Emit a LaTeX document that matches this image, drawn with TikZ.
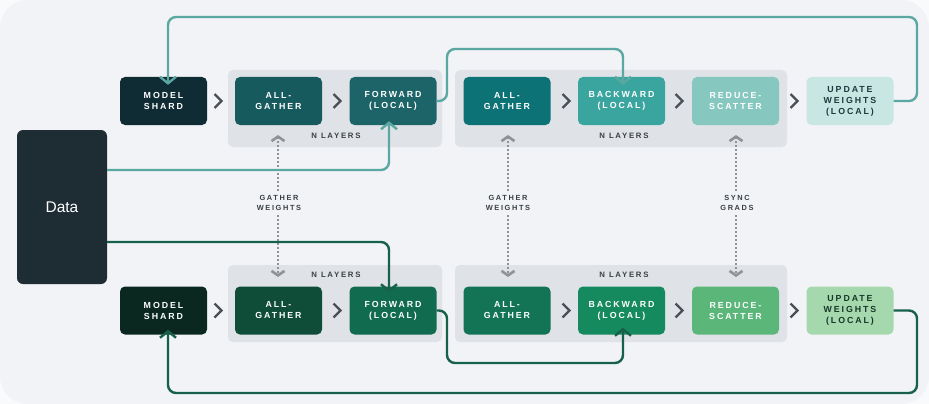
\documentclass[tikz,border=0pt]{standalone}
\usepackage{fontspec}
\setmainfont{Liberation Sans}
\newfontfamily\labfont[LetterSpace=22]{Liberation Sans}
\newfontfamily\datafont{Liberation Sans}
\usetikzlibrary{arrows.meta}
\definecolor{pagebg}{HTML}{F9FAFB}
\definecolor{bg}{HTML}{F1F3F6}
\definecolor{panelc}{HTML}{DFE2E6}
\definecolor{tline}{HTML}{5BA8A3}
\definecolor{bline}{HTML}{17604A}
\definecolor{chev}{HTML}{4A4F55}
\definecolor{dotc}{HTML}{8F9398}
\definecolor{labc}{HTML}{3A4045}
\definecolor{datac}{HTML}{1E2C34}
\definecolor{msA}{HTML}{0F2B33}
\definecolor{agA}{HTML}{175A5E}
\definecolor{fwA}{HTML}{1D6469}
\definecolor{agB}{HTML}{0C7275}
\definecolor{bwA}{HTML}{3AA59F}
\definecolor{rsA}{HTML}{86C8C0}
\definecolor{uwA}{HTML}{C9E7E2}
\definecolor{uwAt}{HTML}{1D3B3E}
\definecolor{msC}{HTML}{0B2820}
\definecolor{agC}{HTML}{0F4D38}
\definecolor{fwC}{HTML}{116B4E}
\definecolor{agD}{HTML}{127455}
\definecolor{bwC}{HTML}{168A5F}
\definecolor{rsC}{HTML}{5BB67A}
\definecolor{uwC}{HTML}{A6D8AE}
\definecolor{uwCt}{HTML}{173828}
\tikzset{
  stepbox/.style={rectangle, rounded corners=5pt, minimum width=87pt, minimum height=48pt,
    align=center, inner sep=0pt, text=white,
    font=\labfont\bfseries\fontsize{8.8}{11}\selectfont},
  panelbox/.style={fill=panelc, rounded corners=5pt},
  nlab/.style={font=\labfont\bfseries\fontsize{7.8}{9}\selectfont, text=labc, inner sep=0pt},
  glab/.style={font=\labfont\bfseries\fontsize{7.4}{10.5}\selectfont, text=labc, align=center, inner sep=0pt},
  tflow/.style={draw=tline, line width=2.4pt, rounded corners=8pt, -{Straight Barb[length=6.5pt,width=16pt]}},
  bflow/.style={draw=bline, line width=2.4pt, rounded corners=8pt, -{Straight Barb[length=6.5pt,width=16pt]}},
  dotflow/.style={draw=dotc, line width=2.6pt, dash pattern=on 2pt off 2pt, -{Straight Barb[length=4.5pt,width=13pt]}},
  chevline/.style={draw=chev, line width=2.2pt},
}
\newcommand{\chevat}[2]{\draw[chevline] (#1-3.5,#2-7) -- (#1+3.5,#2) -- (#1-3.5,#2+7);}
\begin{document}
\begin{tikzpicture}[x=1pt,y=-1pt]
\useasboundingbox (0,0) rectangle (929,404);
\fill[pagebg] (0,0) rectangle (929,404);
\fill[bg, rounded corners=28pt] (0,0) rectangle (929,404);
% panels
\fill[panelbox] (228,70) rectangle (442,147);
\fill[panelbox] (455,70) rectangle (787,147);
\fill[panelbox] (228,265) rectangle (442,342);
\fill[panelbox] (455,265) rectangle (787,342);
% data
\node[rectangle, rounded corners=6pt, fill=datac, minimum width=90pt, minimum height=154pt,
  inner sep=0pt, text=white, font=\datafont\fontsize{15.5}{18}\selectfont] (data) at (62,207) {Data};
% top row
\node[stepbox, fill=msA] (ms1) at (163.5,101) {MODEL\\SHARD};
\node[stepbox, fill=agA] (ag1) at (278.5,101) {ALL-\\GATHER};
\node[stepbox, fill=fwA] (fw1) at (393,101) {FORWARD\\(LOCAL)};
\node[stepbox, fill=agB] (ag2) at (507,101) {ALL-\\GATHER};
\node[stepbox, fill=bwA] (bw1) at (621.5,101) {BACKWARD\\(LOCAL)};
\node[stepbox, fill=rsA] (rs1) at (735.5,101) {REDUCE-\\SCATTER};
\node[stepbox, fill=uwA, text=uwAt] (uw1) at (850,101) {UPDATE\\WEIGHTS\\(LOCAL)};
% bottom row
\node[stepbox, fill=msC] (ms2) at (163.5,310.5) {MODEL\\SHARD};
\node[stepbox, fill=agC] (ag3) at (278.5,310.5) {ALL-\\GATHER};
\node[stepbox, fill=fwC] (fw2) at (393,310.5) {FORWARD\\(LOCAL)};
\node[stepbox, fill=agD] (ag4) at (507,310.5) {ALL-\\GATHER};
\node[stepbox, fill=bwC] (bw2) at (621.5,310.5) {BACKWARD\\(LOCAL)};
\node[stepbox, fill=rsC] (rs2) at (735.5,310.5) {REDUCE-\\SCATTER};
\node[stepbox, fill=uwC, text=uwCt] (uw2) at (850,310.5) {UPDATE\\WEIGHTS\\(LOCAL)};
% N layers labels
\node[nlab] (nl1) at (336,136) {N LAYERS};
\node[nlab] (nl2) at (624,136) {N LAYERS};
\node[nlab] (nl3) at (336,275) {N LAYERS};
\node[nlab] (nl4) at (624,275) {N LAYERS};
% chevrons
\foreach \cx in {218,337,566,679,794}{\chevat{\cx}{101}\chevat{\cx}{310.5}}
% dotted labels
\node[glab] (gw1) at (279,203) {GATHER\\WEIGHTS};
\node[glab] (gw2) at (508,203) {GATHER\\WEIGHTS};
\node[glab] (sg) at (737,203) {SYNC\\GRADS};
\coordinate (p1t) at (278,135); \coordinate (p1b) at (278,277);
\coordinate (p2t) at (508,135); \coordinate (p2b) at (508,277);
\coordinate (p3t) at (736,135); \coordinate (p3b) at (736,277);
\draw[dotflow] (p1t |- gw1.north) ++(0,-4) -- (p1t);
\draw[dotflow] (p1b |- gw1.south) ++(0,4) -- (p1b);
\draw[dotflow] (p2t |- gw2.north) ++(0,-4) -- (p2t);
\draw[dotflow] (p2b |- gw2.south) ++(0,4) -- (p2b);
\draw[dotflow] (p3t |- sg.north) ++(0,-4) -- (p3t);
\draw[dotflow] (p3b |- sg.south) ++(0,4) -- (p3b);
% top flows
\draw[tflow, shorten >=-1pt] (uw1.east) -- (917,101) -- (917,17) -- (168,17) -- ([xshift=4.5pt,yshift=-7pt]ms1.north);
\draw[tflow, shorten >=-1pt] (fw1.east) -- (447,101) -- (447,49) -- (623,49) -- ([xshift=1.5pt,yshift=-7pt]bw1.north);
\draw[tflow] (data.east |- 0,170) -- (389,170) -- ([xshift=-4pt,yshift=4pt]fw1.south);
% bottom flows
\draw[bflow] (data.east |- 0,242) -- (389,242) -- ([xshift=-4pt,yshift=-6pt]fw2.north);
\draw[bflow] (uw2.east) -- (917,310.5) -- (917,393) -- (168,393) -- ([xshift=4.5pt,yshift=5pt]ms2.south);
\draw[bflow] (fw2.east) -- (447,310.5) -- (447,363) -- (623,363) -- ([xshift=1.5pt,yshift=7pt]bw2.south);
\end{tikzpicture}
\end{document}
